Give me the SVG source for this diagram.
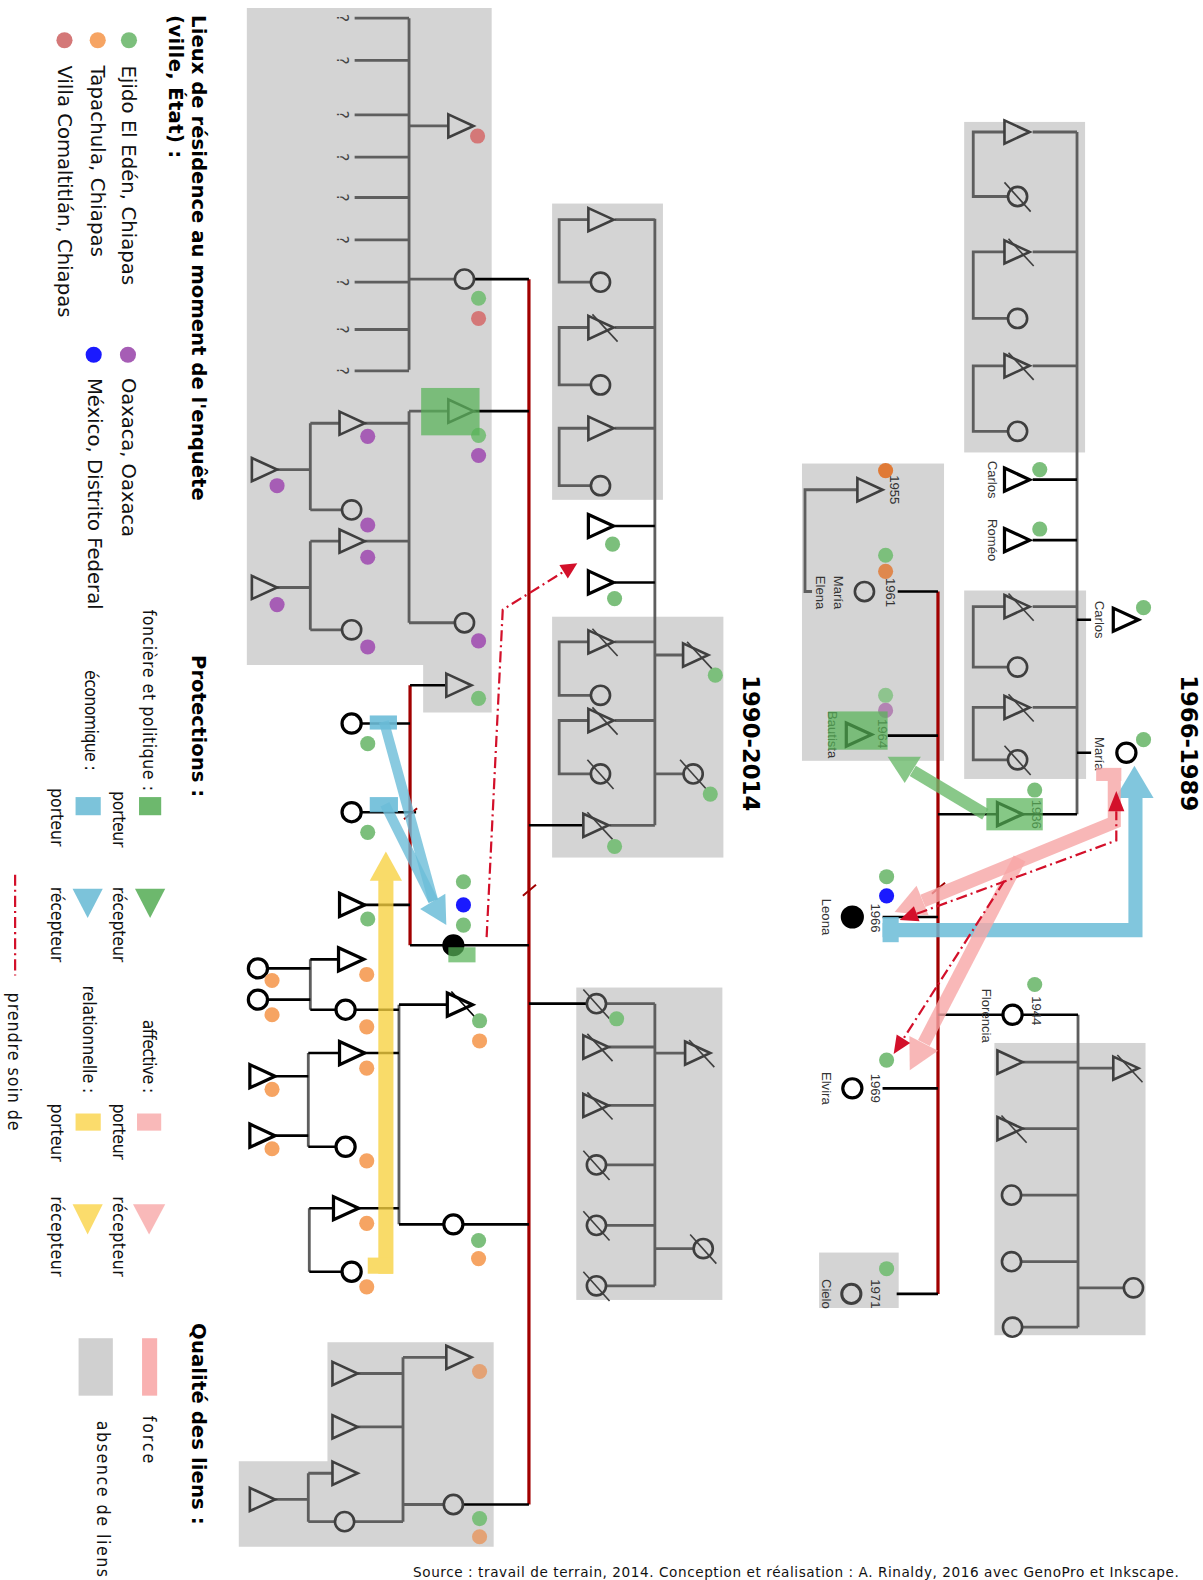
<svg xmlns="http://www.w3.org/2000/svg" width="1203" height="1580" viewBox="0 0 1203 1580">
<style>
.bx{fill:#d4d4d4}
.gl{stroke:#5e5e5e;stroke-width:2.8;fill:none}
.kl{stroke:#000;stroke-width:2.6;fill:none}
.rl{stroke:#a10000;stroke-width:3.2;fill:none}
.g{fill:none;stroke:#3f3f3f;stroke-width:2.6}
.k{fill:none;stroke:#000;stroke-width:3.2}
.kf{fill:#000;stroke:#000;stroke-width:3}
.dg,.do,.dr,.dp,.db,.dt,.dm{stroke:none}
.dg{fill:#7cbf7c}.do{fill:#f6a463}.dr{fill:#d47878}.dp{fill:#a65db5}.db{fill:#1a1aff}.dt{fill:#e07a36}.dm{fill:#e3a275}
.t{font-family:"Liberation Sans",Arial,sans-serif;font-size:13px;fill:#333;stroke:none}
.q{font-family:"DejaVu Sans",sans-serif;font-size:15px;fill:#444;stroke:none}
.lg{font-family:"DejaVu Sans",sans-serif;font-size:19.5px;fill:#111}
.lb{font-family:"DejaVu Sans",sans-serif;font-size:19.5px;font-weight:bold;fill:#000}
.lc{font-family:"DejaVu Sans Condensed","DejaVu Sans",sans-serif;font-stretch:condensed;font-size:17.5px;fill:#111}
.dd{stroke:#d3102a;stroke-width:2.2;fill:none;stroke-dasharray:11 4 2 4}
.ah{fill:#d3102a}
.tk{stroke:#a10000;stroke-width:2;fill:none}
</style>
<defs>
<path id="m" d="M0,-11.5L25,0L0,11.5Z"/>
<circle id="f" r="9.5"/>
<g id="ms"><path d="M0,-11.5L25,0L0,11.5Z"/><path d="M4,-13L29,14" stroke-width="1.6"/></g>
<g id="fs"><circle r="9.5"/><path d="M-13,-14L13,15" stroke-width="1.6"/></g>
</defs>
<g transform="scale(1.0075 1.0077)">

<!-- legend -->
<g id="legend">
<text class="lb" transform="translate(191,15) rotate(90)" textLength="482">Lieux de résidence au moment de l'enquête</text>
<text class="lb" transform="translate(168,15) rotate(90)" textLength="142">(ville, État) :</text>
<circle class="dg" cx="128" cy="40" r="8"/>
<circle class="do" cx="97" cy="40" r="8"/>
<circle class="dr" cx="64" cy="40" r="8"/>
<circle class="dp" cx="127" cy="352" r="8"/>
<circle class="db" cx="93" cy="352" r="8"/>
<text class="lg" transform="translate(121,65) rotate(90)" textLength="218">Ejido El Edén, Chiapas</text>
<text class="lg" transform="translate(90,65) rotate(90)" textLength="190">Tapachula, Chiapas</text>
<text class="lg" transform="translate(58,65) rotate(90)" textLength="250">Villa Comaltitlán, Chiapas</text>
<text class="lg" transform="translate(121,375) rotate(90)" textLength="158">Oaxaca, Oaxaca</text>
<text class="lg" transform="translate(87,375) rotate(90)" textLength="230">México, Distrito Federal</text>

<text class="lb" transform="translate(191,650) rotate(90)" textLength="141">Protections :</text>
<text class="lc" transform="translate(142,605) rotate(90)" textLength="180">foncière et politique :</text>
<rect x="138" y="791" width="22" height="18" fill="#6db86d"/>
<text class="lc" transform="translate(112,785) rotate(90)" textLength="56">porteur</text>
<polygon points="134,882 164,882 149,911" fill="#6db86d"/>
<text class="lc" transform="translate(112,880) rotate(90)" textLength="75">récepteur</text>
<text class="lc" transform="translate(84,665) rotate(90)" textLength="100">économique :</text>
<rect x="75" y="791" width="25" height="18" fill="#7cc3da"/>
<text class="lc" transform="translate(51,782) rotate(90)" textLength="58">porteur</text>
<polygon points="72,882 102,882 87,911" fill="#7cc3da"/>
<text class="lc" transform="translate(51,880) rotate(90)" textLength="75">récepteur</text>
<text class="lc" transform="translate(142,1012) rotate(90)" textLength="73">affective :</text>
<rect x="136" y="1105" width="24" height="17" fill="#f9b9b9"/>
<text class="lc" transform="translate(112,1095) rotate(90)" textLength="56">porteur</text>
<polygon points="132,1195 164,1195 148,1225" fill="#f9b9b9"/>
<text class="lc" transform="translate(112,1187) rotate(90)" textLength="80">récepteur</text>
<text class="lc" transform="translate(82,978) rotate(90)" textLength="107">relationnelle :</text>
<rect x="75" y="1105" width="25" height="17" fill="#fbdc6c"/>
<text class="lc" transform="translate(51,1095) rotate(90)" textLength="58">porteur</text>
<polygon points="72,1195 102,1195 87,1225" fill="#fbdc6c"/>
<text class="lc" transform="translate(51,1187) rotate(90)" textLength="80">récepteur</text>
<path class="dd" d="M15,868V968"/>
<text class="lc" transform="translate(8,985) rotate(90)" textLength="137">prendre soin de</text>

<text class="lb" transform="translate(191,1313) rotate(90)" textLength="200">Qualité des liens :</text>
<rect x="141" y="1328" width="15" height="57" fill="#f9b1b1"/>
<text class="lc" transform="translate(142,1405) rotate(90)" textLength="47">force</text>
<rect x="78" y="1328" width="34" height="57" fill="#d0d0d0"/>
<text class="lc" transform="translate(96,1410) rotate(90)" textLength="155">absence de liens</text>

<text class="lb" style="font-size:22.5px" transform="translate(1172,670) rotate(90)" textLength="135">1966-1989</text>
<text class="lb" style="font-size:22.5px" transform="translate(737,670) rotate(90)" textLength="135">1990-2014</text>
<text class="lg" style="font-size:13.5px" x="410" y="1565" textLength="760">Source : travail de terrain, 2014. Conception et réalisation : A. Rinaldy, 2016 avec GenoPro et Inkscape.</text>
</g>

<!-- gray boxes (absence de liens) -->
<g id="boxes">
<path class="bx" d="M245,8H488V707H420V660H245Z"/>
<rect class="bx" x="548" y="202" width="110" height="294"/>
<rect class="bx" x="548" y="612" width="170" height="239"/>
<rect class="bx" x="572" y="980" width="145" height="310"/>
<path class="bx" d="M325,1332H490V1535H237V1450H325Z"/>
<rect class="bx" x="957" y="121" width="120" height="328"/>
<rect class="bx" x="957" y="586" width="121" height="187"/>
<rect class="bx" x="796" y="460" width="141" height="295"/>
<rect class="bx" x="987" y="1035" width="150" height="290"/>
<rect class="bx" x="813" y="1243" width="79" height="55"/>
</g>

<!-- connectors -->
<g id="connectors">
<path class="gl" d="M406,18V367M352,18H406M352,60H406M352,114H406M352,156H406M352,196H406M352,238H406M352,280H406M352,327H406M352,368H406M406,125H445M406,277H451"/>
<path class="gl" d="M406,408V618M406,408H445M362,420H406M362,537H406M406,618H451M275,466H308M308,420V506M308,420H337M308,506H339M275,583H308M308,537V625M308,537H337M308,625H339"/>
<path class="gl" d="M650,217V819M610,218H650M584,218H555V280H586M610,325H650M584,325H555V382H586M610,425H650M584,425H555V482H586M610,637H650M584,637H555V690H586M610,715H650M584,715H555V768H586M605,819H650M650,650H678M650,768H678"/>
<path class="kl" d="M610,522H650M610,578H650"/>
<path class="gl" d="M650,996V1276M602,996H650M604,1039H650M604,1097H650M602,1156H650M602,1216H650M602,1276H650M650,1045H680M650,1239H688"/>
<path class="gl" d="M396,997V1215M308,952V1002M306,1045V1138M307,1199V1262"/>
<path class="kl" d="M396,997H444M352,1002H396M362,1045H396M356,1199H396M396,1215H440M266,961H308M266,992H308M308,952H336M308,1002H333M273,1068H306M273,1127H306M306,1045H337M306,1138H333M307,1199H331M307,1262H339"/>
<path class="gl" d="M400,1347V1510M400,1347H443M355,1363H400M355,1416H400M400,1493H440M352,1510H400M306,1462V1510M306,1462H330M306,1510H332M273,1488H306"/>
<path class="rl" d="M525,277V1493M407,680V938M931,587V1284"/>
<path class="kl" d="M471,277H525M470,408H525M407,680H443M359,718H407M359,806H413M362,898H407M407,938H525M525,819H579M525,996H582M460,1215H525M460,1493H525"/>
<path class="gl" d="M1069,131V808M1025,131H1069M997,131H966V195H1000M1025,250H1069M997,250H966V316H1000M1025,363H1069M997,363H966V428H1000M1025,602H1069M997,602H966V662H1000M1025,702H1069M997,702H966V754H1000M851,486H799V587H806M1070,1007V1317M1015,1054H1070M1015,1120H1070M1014,1186H1070M1014,1252H1070M1014,1317H1070M1070,1060H1105M1070,1278H1115"/>
<path class="kl" d="M1025,476H1069M1025,536H1069M1069,615H1083M1069,747H1083M891,587H931M881,730H931M931,808H990M1015,808H1069M876,910H931M876,1080H931M890,1284H931M931,1007H995M1015,1007H1070"/>
<path class="tk" d="M401,813L414,802M519,889L532,878M925,887L938,876"/>
</g>

<!-- nodes -->
<g id="family-oaxaca" class="g">
<g id="q"><text class="q" transform="translate(334,18) rotate(90)" text-anchor="middle">?</text><text class="q" transform="translate(334,60) rotate(90)" text-anchor="middle">?</text><text class="q" transform="translate(334,114) rotate(90)" text-anchor="middle">?</text><text class="q" transform="translate(334,156) rotate(90)" text-anchor="middle">?</text><text class="q" transform="translate(334,196) rotate(90)" text-anchor="middle">?</text><text class="q" transform="translate(334,238) rotate(90)" text-anchor="middle">?</text><text class="q" transform="translate(334,280) rotate(90)" text-anchor="middle">?</text><text class="q" transform="translate(334,327) rotate(90)" text-anchor="middle">?</text><text class="q" transform="translate(334,368) rotate(90)" text-anchor="middle">?</text></g>
<g id="n1"><use href="#m" x="445" y="125"/><circle class="dr" cx="474" cy="135" r="7.5"/></g>
<g id="n2"><use href="#f" x="461" y="277"/><circle class="dg" cx="475" cy="296" r="7.5"/><circle class="dr" cx="475" cy="316" r="7.5"/></g>
<g id="n3"><use href="#m" x="445" y="408"/><circle class="dg" cx="475" cy="432" r="7.5"/><circle class="dp" cx="475" cy="452" r="7.5"/></g>
<g id="n4"><use href="#m" x="337" y="420"/><circle class="dp" cx="365" cy="433" r="7.5"/></g>
<g id="n5"><use href="#f" x="349" y="506"/><circle class="dp" cx="365" cy="521" r="7.5"/></g>
<g id="n6"><use href="#m" x="337" y="537"/><circle class="dp" cx="365" cy="553" r="7.5"/></g>
<g id="n7"><use href="#f" x="349" y="625"/><circle class="dp" cx="365" cy="642" r="7.5"/></g>
<g id="n8"><use href="#f" x="461" y="618"/><circle class="dp" cx="475" cy="636" r="7.5"/></g>
<g id="n9"><use href="#m" x="250" y="466"/><circle class="dp" cx="275" cy="482" r="7.5"/></g>
<g id="n10"><use href="#m" x="250" y="583"/><circle class="dp" cx="275" cy="600" r="7.5"/></g>
<g id="n11"><use href="#m" x="443" y="680"/><circle class="dg" cx="475" cy="693" r="7.5"/></g>
</g>

<g id="family-1990" class="g">
<g id="n20"><use href="#m" x="584" y="218"/></g>
<g id="n21"><use href="#f" x="596" y="280"/></g>
<g id="n22"><use href="#ms" x="584" y="325"/></g>
<g id="n23"><use href="#f" x="596" y="382"/></g>
<g id="n24"><use href="#m" x="584" y="425"/></g>
<g id="n25"><use href="#f" x="596" y="482"/></g>
<g id="n26" class="k"><use href="#m" x="584" y="522"/><circle class="dg" cx="608" cy="540" r="7.5"/></g>
<g id="n27" class="k"><use href="#m" x="584" y="578"/><circle class="dg" cx="610" cy="594" r="7.5"/></g>
<g id="n28"><use href="#ms" x="584" y="637"/></g>
<g id="n29"><use href="#f" x="596" y="690"/></g>
<g id="n30"><use href="#ms" x="584" y="715"/></g>
<g id="n31"><use href="#fs" x="596" y="768"/></g>
<g id="n32"><use href="#ms" x="579" y="819"/><circle class="dg" cx="610" cy="840" r="7.5"/></g>
<g id="n33"><use href="#ms" x="678" y="650"/><circle class="dg" cx="710" cy="670" r="7.5"/></g>
<g id="n34"><use href="#fs" x="688" y="768"/><circle class="dg" cx="705" cy="788" r="7.5"/></g>
<g id="n40"><use href="#fs" x="592" y="996"/><circle class="dg" cx="612" cy="1011" r="7.5"/></g>
<g id="n41"><use href="#ms" x="579" y="1039"/></g>
<g id="n42"><use href="#ms" x="579" y="1097"/></g>
<g id="n43"><use href="#fs" x="592" y="1156"/></g>
<g id="n44"><use href="#fs" x="592" y="1216"/></g>
<g id="n45"><use href="#fs" x="592" y="1276"/></g>
<g id="n46"><use href="#ms" x="680" y="1045"/></g>
<g id="n47"><use href="#fs" x="698" y="1239"/></g>
</g>

<g id="family-leona-1990" class="k">
<g id="n50"><use href="#f" x="349" y="718"/><circle class="dg" cx="365" cy="738" r="7.5"/></g>
<g id="n51"><use href="#f" x="349" y="806"/><circle class="dg" cx="365" cy="826" r="7.5"/></g>
<g id="n52"><use href="#m" x="337" y="898"/><circle class="dg" cx="365" cy="912" r="7.5"/></g>
<g id="n53"><circle class="kf" cx="450" cy="938" r="9.5"/><circle class="dg" cx="460" cy="875" r="7.5"/><circle class="db" cx="460" cy="898" r="7.5"/><circle class="dg" cx="460" cy="918" r="7.5"/></g>
<g id="n54"><use href="#ms" x="444" y="997"/><circle class="dg" cx="476" cy="1013" r="7.5"/><circle class="do" cx="476" cy="1033" r="7.5"/></g>
<g id="n55"><use href="#f" x="343" y="1002"/><circle class="do" cx="364" cy="1019" r="7.5"/></g>
<g id="n56"><use href="#f" x="256" y="961"/><circle class="do" cx="270" cy="973" r="7.5"/></g>
<g id="n57"><use href="#f" x="256" y="992"/><circle class="do" cx="270" cy="1007" r="7.5"/></g>
<g id="n58"><use href="#m" x="336" y="952"/><circle class="do" cx="364" cy="967" r="7.5"/></g>
<g id="n59"><use href="#m" x="337" y="1045"/><circle class="do" cx="364" cy="1060" r="7.5"/></g>
<g id="n60"><use href="#m" x="248" y="1068"/><circle class="do" cx="270" cy="1081" r="7.5"/></g>
<g id="n61"><use href="#m" x="248" y="1127"/><circle class="do" cx="270" cy="1140" r="7.5"/></g>
<g id="n62"><use href="#f" x="343" y="1138"/><circle class="do" cx="364" cy="1152" r="7.5"/></g>
<g id="n63"><use href="#m" x="331" y="1199"/><circle class="do" cx="364" cy="1214" r="7.5"/></g>
<g id="n64"><use href="#f" x="349" y="1262"/><circle class="do" cx="364" cy="1277" r="7.5"/></g>
<g id="n65"><use href="#f" x="450" y="1215"/><circle class="dg" cx="475" cy="1231" r="7.5"/><circle class="do" cx="475" cy="1249" r="7.5"/></g>
</g>

<g id="family-bottom" class="g">
<g id="n70"><use href="#m" x="443" y="1347"/><circle class="dm" cx="476" cy="1361" r="7.5"/></g>
<g id="n71"><use href="#m" x="330" y="1363"/></g>
<g id="n72"><use href="#m" x="330" y="1416"/></g>
<g id="n73"><use href="#m" x="330" y="1462"/></g>
<g id="n74"><use href="#f" x="342" y="1510"/></g>
<g id="n75"><use href="#m" x="248" y="1488"/></g>
<g id="n76"><use href="#f" x="450" y="1493"/><circle class="dg" cx="476" cy="1507" r="7.5"/><circle class="dm" cx="476" cy="1525" r="7.5"/></g>
</g>

<g id="family-1966" class="g">
<g id="n80"><use href="#m" x="997" y="131"/></g>
<g id="n81"><use href="#fs" x="1010" y="195"/></g>
<g id="n82"><use href="#ms" x="997" y="250"/></g>
<g id="n83"><use href="#f" x="1010" y="316"/></g>
<g id="n84"><use href="#ms" x="997" y="363"/></g>
<g id="n85"><use href="#f" x="1010" y="428"/></g>
<g id="carlos1" class="k"><use href="#m" x="997" y="476"/><circle class="dg" cx="1032" cy="466" r="7.5"/><text class="t" transform="translate(981,476) rotate(90)" text-anchor="middle">Carlos</text></g>
<g id="romeo" class="k"><use href="#m" x="997" y="536"/><circle class="dg" cx="1032" cy="525" r="7.5"/><text class="t" transform="translate(981,536) rotate(90)" text-anchor="middle">Roméo</text></g>
<g id="n86"><use href="#ms" x="997" y="602"/></g>
<g id="n87"><use href="#f" x="1010" y="662"/></g>
<g id="n88"><use href="#ms" x="997" y="702"/></g>
<g id="n89"><use href="#fs" x="1010" y="754"/></g>
<g id="carlos2" class="k"><use href="#m" x="1105" y="615"/><circle class="dg" cx="1135" cy="603" r="7.5"/><text class="t" transform="translate(1087,615) rotate(90)" text-anchor="middle">Carlos</text></g>
<g id="maria" class="k"><use href="#f" x="1118" y="747"/><circle class="dg" cx="1135" cy="734" r="7.5"/><text class="t" transform="translate(1087,748) rotate(90)" text-anchor="middle">María</text></g>
<g id="p1955"><use href="#m" x="851" y="486"/><circle class="dt" cx="879" cy="467" r="7.5"/><text class="t" transform="translate(883,486) rotate(90)" text-anchor="middle">1955</text></g>
<g id="maria-elena"><use href="#f" x="858" y="587"/><circle class="dg" cx="879" cy="551" r="7.5"/><circle class="dt" cx="879" cy="567" r="7.5" opacity=".85"/><text class="t" transform="translate(879,588) rotate(90)" text-anchor="middle">1961</text><text class="t" transform="translate(828,588) rotate(90)" text-anchor="middle">María</text><text class="t" transform="translate(810,588) rotate(90)" text-anchor="middle">Elena</text></g>
<g id="bautista" class="k"><use href="#m" x="840" y="729"/><circle class="dg" cx="879" cy="690" r="7.5" opacity=".8"/><circle cx="879" cy="705" r="7.5" fill="#b384b3" stroke="none"/><text class="t" transform="translate(871,728) rotate(90)" text-anchor="middle">1964</text><text class="t" transform="translate(822,729) rotate(90)" text-anchor="middle">Bautista</text></g>
<g id="p1936" class="k"><use href="#m" x="990" y="808"/><circle class="dg" cx="1027" cy="784" r="7.5"/><text class="t" transform="translate(1024,808) rotate(90)" text-anchor="middle">1936</text></g>
<g id="leona" stroke="none"><circle class="kf" cx="846" cy="910" r="10"/><circle class="dg" cx="880" cy="870" r="7.5"/><circle class="db" cx="880" cy="889" r="7.5"/><text class="t" transform="translate(865,911) rotate(90)" text-anchor="middle">1966</text><text class="t" transform="translate(816,910) rotate(90)" text-anchor="middle">Leona</text></g>
<g id="florencia" class="k"><use href="#f" x="1005" y="1007"/><circle class="dg" cx="1027" cy="977" r="7.5"/><text class="t" transform="translate(1024,1003) rotate(90)" text-anchor="middle">1944</text><text class="t" transform="translate(975,1008) rotate(90)" text-anchor="middle">Florencia</text></g>
<g id="elvira" class="k"><use href="#f" x="846" y="1080"/><circle class="dg" cx="880" cy="1052" r="7.5"/><text class="t" transform="translate(865,1080) rotate(90)" text-anchor="middle">1969</text><text class="t" transform="translate(816,1080) rotate(90)" text-anchor="middle">Elvira</text></g>
<g id="cielo"><use href="#f" x="845" y="1284" stroke-width="3"/><circle class="dg" cx="880" cy="1259" r="7.5"/><text class="t" transform="translate(865,1284) rotate(90)" text-anchor="middle">1971</text><text class="t" transform="translate(816,1284) rotate(90)" text-anchor="middle">Cielo</text></g>
<g id="n90"><use href="#m" x="990" y="1054"/></g>
<g id="n91"><use href="#ms" x="990" y="1120"/></g>
<g id="n92"><use href="#f" x="1004" y="1186"/></g>
<g id="n93"><use href="#f" x="1004" y="1252"/></g>
<g id="n94"><use href="#f" x="1005" y="1317"/></g>
<g id="n95"><use href="#ms" x="1105" y="1060"/></g>
<g id="n96"><use href="#f" x="1125" y="1278"/></g>
</g>

<!-- protections -->
<g id="protections">
<g fill="#58b358" opacity=".72">
<rect x="418" y="385" width="58" height="47"/>
<rect x="445" y="940" width="27" height="15"/>
<rect x="822" y="706" width="59" height="38"/>
<rect x="979" y="792" width="56" height="32"/>
</g>
<g opacity=".8"><path d="M978,808L906,765" stroke="#6cbb6c" stroke-width="12"/><polygon points="881,751 914,751 898,777" fill="#6cbb6c"/></g>
<g fill="#6cbdd8" stroke="#6cbdd8">
<path d="M381,716L430,894" stroke-width="10" stroke-opacity=".8" fill="none"/>
<path d="M382,798L430,894" stroke-width="10" stroke-opacity=".8" fill="none"/>
<polygon points="443,918 417,902 442,887" stroke="none" fill-opacity=".85"/>
<rect x="367" y="710" width="27" height="14" stroke="none" fill-opacity=".9"/>
<rect x="367" y="791" width="28" height="15" stroke="none" fill-opacity=".9"/>
</g>
<g opacity=".85"><path d="M876,923H1127V790" stroke="#6cbdd8" stroke-width="14" fill="none"/><polygon points="1107,792 1145,792 1126,760" fill="#6cbdd8"/><rect x="876" y="910" width="16" height="25" fill="#6cbdd8"/></g>
<g opacity=".78"><path d="M383,873V1264" stroke="#f8d13f" stroke-width="15"/><rect x="365" y="1248" width="25" height="16" fill="#f8d13f"/><polygon points="367,874 399,874 383,845" fill="#f8d13f"/></g>
<g fill="#f7a6a6" stroke="#f7a6a6" opacity=".8">
<rect x="1088" y="762" width="25" height="13" stroke="none"/>
<path d="M1106,774V816L916,894" stroke-width="13" fill="none"/>
<polygon points="888,905 921.8,908.5 909.7,878.9" stroke="none"/>
</g>
<g fill="#f7a6a6" stroke="#f7a6a6" opacity=".8">
<path d="M1012,852L917,1035" stroke-width="13" fill="none"/>
<polygon points="903,1062 931,1042.7 902.6,1028.1" stroke="none"/>
</g>
<path class="dd" d="M483,930L499,605L559.4,567.4"/>
<polygon class="ah" points="573,559 563.6,574.2 555.2,560.6"/>
<path class="dd" d="M909.9,906.8L1108,834V805"/>
<polygon class="ah" points="893,913 912.7,914.3 907.1,899.3"/>
<polygon class="ah" points="1108,785 1100,805 1116,805"/>
<path class="dd" d="M997,874L896.7,1030.8"/>
<polygon class="ah" points="887,1046 903.4,1035.1 890,1026.5"/>
</g>
</g>
</svg>
